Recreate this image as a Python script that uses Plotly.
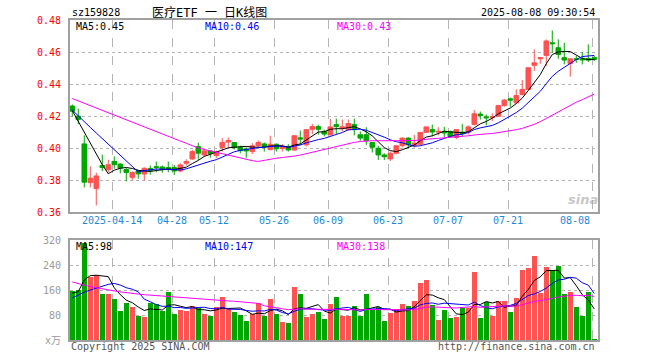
import plotly.graph_objects as go

# ---------------- data ----------------
tick_idx = [7, 17, 24, 34, 43, 53, 63, 73, 87]
tick_labels = ["2025-04-14", "04-28", "05-12", "05-26", "06-09", "06-23", "07-07", "07-21", "08-08"]

opens = [.4263, .4200, .4027, .3785, .3748, .3892, .3866, .3918, .3901, .3867,
         .3818, .3859, .3839, .3874, .3885, .3883, .3879, .3879, .3858, .3906,
         .3933, .4010, .3958, .3983, .3954, .4004, .4038, .4036, .4006, .3994,
         .3979, .4017, .4027, .3992, .4025, .3998, .4011, .3989, .4065, .4021,
         .4118, .4135, .4105, .4084, .4147, .4126, .4116, .4147, .4084, .4084,
         .4036, .4000, .3958, .3933, .3968, .4017, .4063, .4017, .4025, .4099,
         .4116, .4101, .4105, .4105, .4067, .4100, .4100, .4148, .4213, .4196,
         .4192, .4200, .4267, .4308, .4283, .4335, .4367, .4517, .4558, .4579,
         .4658, .4627, .4565, .4529, .4558, .4558, .4560, .4565]
highs = [.4273, .4247, .4080, .3887, .3847, .3960, .3928, .3949, .3906, .3878,
         .3855, .3865, .3880, .3892, .3917, .3892, .3917, .3896, .3906, .3931,
         .3990, .4035, .3994, .3989, .3985, .4063, .4067, .4036, .4017, .4006,
         .4032, .4048, .4036, .4078, .4029, .4025, .4025, .4078, .4110, .4116,
         .4152, .4147, .4116, .4183, .4185, .4179, .4179, .4185, .4105, .4131,
         .4036, .4015, .3968, .3979, .4021, .4067, .4067, .4084, .4099, .4133,
         .4147, .4131, .4133, .4109, .4120, .4152, .4142, .4238, .4229, .4210,
         .4217, .4267, .4308, .4315, .4367, .4425, .4502, .4617, .4565, .4679,
         .4735, .4679, .4658, .4558, .4575, .4600, .4648, .4575]
lows = [.4199, .4150, .3755, .3755, .3643, .3857, .3848, .3872, .3843, .3793,
        .3798, .3810, .3798, .3835, .3850, .3848, .3850, .3833, .3850, .3892,
        .3927, .3927, .3947, .3941, .3937, .3979, .4004, .3992, .3968, .3941,
        .3964, .4000, .3979, .3985, .3979, .3979, .3979, .3985, .4020, .4011,
        .4088, .4084, .4074, .4080, .4088, .4105, .4109, .4080, .4046, .4021,
        .3973, .3926, .3926, .3920, .3962, .4004, .4000, .4004, .4017, .4095,
        .4074, .4080, .4070, .4063, .4057, .4071, .4085, .4142, .4179, .4142,
        .4169, .4196, .4258, .4258, .4279, .4329, .4363, .4481, .4527, .4513,
        .4596, .4558, .4523, .4446, .4533, .4523, .4538, .4544]
closes = [.4231, .4180, .3788, .3813, .3827, .3879, .3897, .3897, .3876, .3849,
          .3849, .3840, .3875, .3861, .3880, .3866, .3871, .3858, .3896, .3917,
          .3979, .3969, .3983, .3966, .3979, .4036, .4048, .4004, .3985, .3983,
          .4015, .4036, .4011, .4025, .3996, .4011, .3989, .4078, .4057, .4116,
          .4135, .4118, .4088, .4133, .4135, .4133, .4154, .4116, .4063, .4046,
          .4006, .3958, .3947, .3968, .4015, .4063, .4021, .4032, .4099, .4133,
          .4101, .4105, .4095, .4074, .4116, .4092, .4133, .4215, .4204, .4190,
          .4196, .4267, .4300, .4300, .4329, .4367, .4502, .4533, .4565, .4669,
          .4652, .4585, .4550, .4558, .4554, .4552, .4550, .4554]
volumes = [156.8, 160, 309, 202.7, 208, 147, 147, 131, 92.8, 119.5,
           106.7, 77.9, 74.7, 119.5, 115.2, 92.8, 153.6, 83.2, 96, 92.8,
           108.8, 103.5, 83.2, 77.9, 106.7, 138.7, 98, 88.5, 80, 60.8,
           83.2, 117.3, 77.9, 131.2, 83.2, 58.7, 55.5, 170.7, 147.2, 74.7,
           83.2, 90.7, 67.2, 115.2, 138.7, 77.9, 77.9, 108.8, 77.9, 147.2,
           96, 106.7, 60.8, 85.3, 98.1, 115.2, 108.8, 124.8, 182.4, 192,
           112, 64, 96, 71.5, 74.7, 101.3, 101.3, 218.7, 71.5, 122.7,
           77.9, 124.8, 124.8, 90.7, 135.5, 224, 231.5, 269.9, 149.3, 234.7,
           224, 237.9, 146.1, 154.7, 106.7, 77.9, 154.7, 3.2]

# moving-average values at the start of the window (read from the chart,
# they depend on days before the first candle)
ma5_head = [.4235, .4168, .4101, .4035]
ma10_head = [.4238, .4200, .4165, .4130, .4095, .4060, .4028, .3995, .3960]
ma30_head = [.4310, .4295, .4281, .4266, .4251, .4237, .4222, .4207, .4193, .4178,
             .4163, .4148, .4134, .4119, .4104, .4090, .4075, .4060, .4045, .4031,
             .4016, .4001, .3992, .3983, .3975, .3967, .3958, .3950, .3942]
vma5_head = [150, 155, 192, 206]
vma10_head = [135, 145, 153, 160, 166, 172, 178, 181, 176]
vma30_head = [186, 180, 175, 171, 167, 164, 160, 157, 154, 151,
              149, 147, 145, 143.5, 142, 141, 140, 138, 136, 134,
              132, 131, 129.5, 128, 127, 126, 125, 124, 122.5]

price_labels = ["MA5:0.45", "MA10:0.46", "MA30:0.43"]
vol_labels = ["MA5:98", "MA10:147", "MA30:138"]


def moving_avg(vals, n, head):
    out = list(head)
    for i in range(len(head), len(vals)):
        out.append(sum(vals[i - n + 1:i + 1]) / n)
    return out


N = len(closes)
xs = list(range(N))
ma5 = moving_avg(closes, 5, ma5_head)
ma10 = moving_avg(closes, 10, ma10_head)
ma30 = moving_avg(closes, 30, ma30_head)
vma5 = moving_avg(volumes, 5, vma5_head)
vma10 = moving_avg(volumes, 10, vma10_head)
vma30 = moving_avg(volumes, 30, vma30_head)

RED = "#ff5252"
GREEN = "#00a600"
MONO = "DejaVu Sans Mono, Noto Sans CJK SC, monospace"

fig = go.Figure()
fig.add_trace(go.Candlestick(
    x=xs, open=opens, high=highs, low=lows, close=closes,
    increasing=dict(line=dict(color=RED, width=1), fillcolor=RED),
    decreasing=dict(line=dict(color=GREEN, width=1), fillcolor=GREEN),
    whiskerwidth=0, hoverinfo="skip", xaxis="x", yaxis="y", showlegend=False))
for ys, col in ((ma5, "#000000"), (ma10, "#0000ff"), (ma30, "#ff00ff")):
    fig.add_trace(go.Scatter(x=xs, y=ys, mode="lines", line=dict(color=col, width=1),
                             hoverinfo="skip", xaxis="x", yaxis="y", showlegend=False))

bar_colors = [RED if c >= o else GREEN for o, c in zip(opens, closes)]
fig.add_trace(go.Bar(x=xs, y=volumes, marker=dict(color=bar_colors, line=dict(width=0)),
                     width=0.85, hoverinfo="skip", xaxis="x2", yaxis="y2", showlegend=False))
for ys, col in ((vma5, "#000000"), (vma10, "#0000ff"), (vma30, "#ff00ff")):
    fig.add_trace(go.Scatter(x=xs, y=ys, mode="lines", line=dict(color=col, width=1),
                             hoverinfo="skip", xaxis="x2", yaxis="y2", showlegend=False))

grid_x = [i - 0.3 for i in tick_idx]
xcommon = dict(range=[-0.38, 87.62], tickvals=grid_x, showticklabels=False, ticks="",
               showgrid=True, gridcolor="#b4b4b4", griddash="dash", gridwidth=1,
               showline=True, mirror=True, linecolor="#a0a0a0", linewidth=2,
               zeroline=False, fixedrange=True)

fig.update_layout(
    width=660, height=360,
    margin=dict(l=70, r=62, t=20, b=20),
    paper_bgcolor="white", plot_bgcolor="white",
    font=dict(family=MONO, size=10, color="#000"),
    boxgap=0.15, boxgroupgap=0.1, bargap=0,
    xaxis=dict(**xcommon, anchor="y", rangeslider=dict(visible=False)),
    yaxis=dict(domain=[0.399, 1], range=[0.36, 0.48],
               tickvals=[0.36, 0.38, 0.40, 0.42, 0.44, 0.46, 0.48],
               ticktext=["0.36", "0.38", "0.40", "0.42", "0.44", "0.46", "0.48"],
               tickfont=dict(color="#ff0000", size=10, family=MONO), ticks="",
               ticklabelstandoff=5,
               showgrid=True, gridcolor="#b4b4b4", griddash="dot",
               showline=True, mirror=True, linecolor="#a0a0a0", linewidth=2,
               zeroline=False, fixedrange=True),
    xaxis2=dict(**xcommon, anchor="y2", matches="x"),
    yaxis2=dict(domain=[0, 0.3125], range=[0, 320],
                tickvals=[0, 80, 160, 240, 320],
                ticktext=["x万", "80", "160", "240", "320"],
                tickfont=dict(color="#9a9a9a", size=10, family=MONO), ticks="",
                ticklabelstandoff=5,
                showgrid=True, gridcolor="#b4b4b4", griddash="dot",
                showline=True, mirror=True, linecolor="#a0a0a0", linewidth=2,
                zeroline=False, fixedrange=True),
)

ann = []
# x tick labels
for i, (gx, lab) in enumerate(zip(grid_x, tick_labels)):
    last = i == len(tick_labels) - 1
    ann.append(dict(x=gx, y=0.375, xref="x", yref="paper", text=lab, showarrow=False,
                    xanchor="right" if last else "center", yanchor="middle",
                    font=dict(color="#1e88d8", size=10, family=MONO)))
# header
ann.append(dict(x=0, y=1.022, xref="paper", yref="paper", text="sz159828", showarrow=False,
                xanchor="left", yanchor="middle", font=dict(size=10, family=MONO)))
ann.append(dict(x=0.264, y=1.022, xref="paper", yref="paper", text="医疗ETF 一 日K线图",
                showarrow=False, xanchor="center", yanchor="middle",
                font=dict(size=12, family=MONO)))
ann.append(dict(x=0.998, y=1.022, xref="paper", yref="paper", text="2025-08-08 09:30:54",
                showarrow=False, xanchor="right", yanchor="middle",
                font=dict(size=10, family=MONO)))
# MA labels
for lab, xf, col in zip(price_labels, (0.0076, 0.252, 0.501), ("#000000", "#0000ff", "#ff00ff")):
    ann.append(dict(x=xf, y=0.981, xref="paper", yref="paper", text=lab, showarrow=False,
                    xanchor="left", yanchor="middle", font=dict(size=10, color=col, family=MONO)))
for lab, xf, col in zip(vol_labels, (0.0076, 0.252, 0.501), ("#000000", "#0000ff", "#ff00ff")):
    ann.append(dict(x=xf, y=0.2916, xref="paper", yref="paper", text=lab, showarrow=False,
                    xanchor="left", yanchor="middle", font=dict(size=10, color=col, family=MONO)))
# footer
ann.append(dict(x=-0.002, y=-0.019, xref="paper", yref="paper", text="Copyright 2025 SINA.COM",
                showarrow=False, xanchor="left", yanchor="middle",
                font=dict(size=10, color="#555555", family=MONO)))
ann.append(dict(x=0.9975, y=-0.019, xref="paper", yref="paper", text="http://finance.sina.com.cn",
                showarrow=False, xanchor="right", yanchor="middle",
                font=dict(size=10, color="#555555", family=MONO)))
# watermark
ann.append(dict(x=0.972, y=0.44, xref="paper", yref="paper", text="<b><i>sina</i></b>",
                showarrow=False, xanchor="center", yanchor="middle",
                font=dict(size=13, color="rgba(150,150,150,0.55)", family="DejaVu Sans")))
fig.update_layout(annotations=ann)

fig.write_html("out.html", config={"displayModeBar": False, "staticPlot": True},
               post_script="document.body.style.margin='0';")
